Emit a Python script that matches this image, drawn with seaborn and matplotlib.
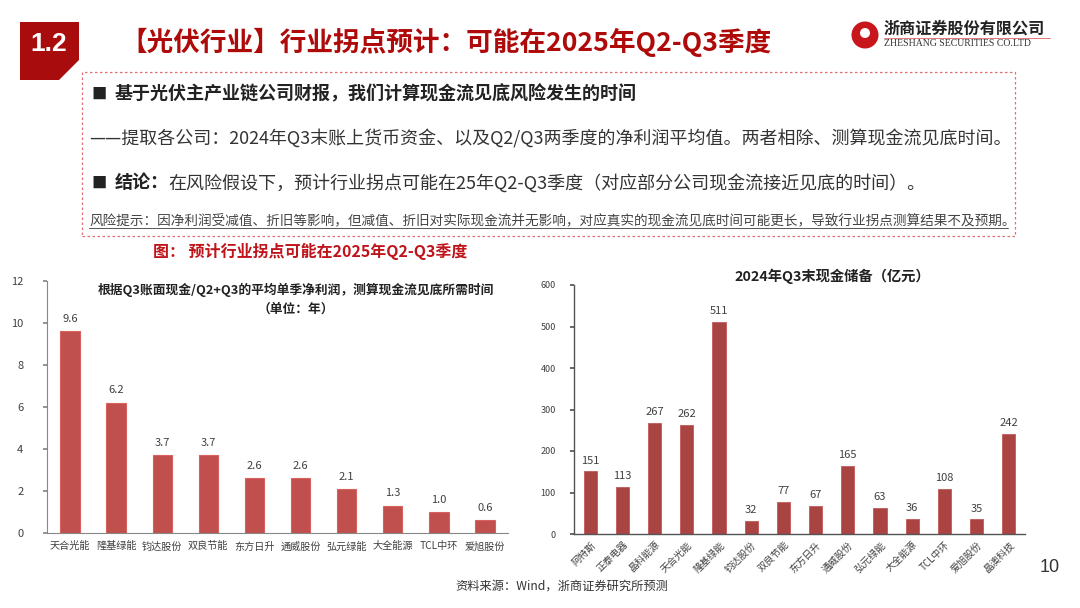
import matplotlib
matplotlib.use("Agg")
import matplotlib.pyplot as plt
import matplotlib.patches as mpatches
import seaborn as sns
import pandas as pd

sns.set_theme(style="white")
plt.rcParams['font.family'] = ['Noto Sans CJK SC', 'DejaVu Sans']

# ---------------- data ----------------
left_companies = ["天合光能", "隆基绿能", "钧达股份", "双良节能", "东方日升",
                  "通威股份", "弘元绿能", "大全能源", "TCL中环", "爱旭股份"]
left_years = [9.6, 6.2, 3.7, 3.7, 2.6, 2.6, 2.1, 1.3, 1.0, 0.6]
left_yticks = [0, 2, 4, 6, 8, 10, 12]

right_companies = ["阿特斯", "正泰电器", "晶科能源", "天合光能", "隆基绿能", "钧达股份",
                   "双良节能", "东方日升", "通威股份", "弘元绿能", "大全能源", "TCL中环",
                   "爱旭股份", "晶澳科技"]
right_cash = [151, 113, 267, 262, 511, 32, 77, 67, 165, 63, 36, 108, 35, 242]
right_yticks = [0, 100, 200, 300, 400, 500, 600]

W, H = 1080, 608
fig = plt.figure(figsize=(W / 100, H / 100), dpi=100)
fig.patch.set_facecolor("white")


def P(x, y):
    return (x / W, 1 - y / H)


RED = "#AE0A0A"
GRAY = "#404040"

# ---------------- header ----------------
poly = [P(20, 22), P(79, 22), P(79, 60), P(59, 80), P(20, 80)]
fig.patches.append(mpatches.Polygon(poly, closed=True, transform=fig.transFigure,
                                    facecolor="#A80C0C", edgecolor="none"))
fig.text(*P(49, 44), "1.2", color="white", fontsize=19, fontweight="bold",
         family=["Liberation Sans", "DejaVu Sans"], ha="center", va="center")
fig.text(*P(120, 42), "【光伏行业】行业拐点预计：可能在2025年Q2-Q3季度", color=RED,
         fontsize=19.2, fontweight="bold", ha="left", va="center")

# logo
fig.patches.append(mpatches.Ellipse(P(865, 35), 27 / W, 27 / H, transform=fig.transFigure,
                                    facecolor="#C8161D", edgecolor="none"))
fig.patches.append(mpatches.Ellipse(P(865, 33), 10 / W, 10 / H, transform=fig.transFigure,
                                    facecolor="white", edgecolor="none"))
fig.text(*P(884, 29), "浙商证券股份有限公司", color="#222222", fontsize=11.6,
         fontweight="bold", ha="left", va="center")
fig.lines.append(plt.Line2D([P(884, 38)[0], P(1050, 38)[0]], [P(884, 38)[1], P(1050, 38)[1]],
                            transform=fig.transFigure, color="#E06060", lw=0.6))
fig.text(*P(884, 44), "ZHESHANG SECURITIES CO.LTD", color="#333333", fontsize=7,
         family=["Liberation Serif", "DejaVu Serif"], ha="left", va="center")

# dashed text box
box = mpatches.Rectangle(P(82, 236), (1015 - 82) / W, (236 - 72) / H, transform=fig.transFigure,
                         facecolor="none", edgecolor="#E07070", lw=0.9, ls=(0, (2, 2)))
fig.patches.append(box)

fig.text(*P(91, 94), "■", color="#222222", fontsize=11, ha="left", va="center")
fig.text(*P(115, 94), "基于光伏主产业链公司财报，我们计算现金流见底风险发生的时间",
         color="#222222", fontsize=13, fontweight="bold", ha="left", va="center")
fig.text(*P(89, 139), "——提取各公司：2024年Q3末账上货币资金、以及Q2/Q3两季度的净利润平均值。两者相除、测算现金流见底时间。",
         color="#333333", fontsize=12.95, ha="left", va="center")
fig.text(*P(91, 183), "■", color="#222222", fontsize=11, ha="left", va="center")
fig.text(*P(115, 183), "结论：", color="#222222", fontsize=13, fontweight="bold",
         ha="left", va="center")
fig.text(*P(168, 183), "在风险假设下，预计行业拐点可能在25年Q2-Q3季度（对应部分公司现金流接近见底的时间）。",
         color="#333333", fontsize=13, ha="left", va="center")
fig.text(*P(89, 221), "风险提示：因净利润受减值、折旧等影响，但减值、折旧对实际现金流并无影响，对应真实的现金流见底时间可能更长，导致行业拐点测算结果不及预期。",
         color="#444444", fontsize=9.8, ha="left", va="center")
fig.lines.append(plt.Line2D([P(89, 228)[0], P(1008, 228)[0]], [P(89, 228)[1], P(1008, 228)[1]],
                            transform=fig.transFigure, color="#555555", lw=0.7))

fig.text(*P(153, 251), "图： 预计行业拐点可能在2025年Q2-Q3季度", color="#C0141B",
         fontsize=11.5, fontweight="bold", ha="left", va="center")

# ---------------- left chart ----------------
axL = fig.add_axes([47 / W, 1 - 533 / H, (508 - 47) / W, (533 - 281) / H])
dfL = pd.DataFrame({"company": left_companies, "years": left_years})
sns.barplot(data=dfL, x="company", y="years", ax=axL, color="#C0504D",
            width=0.42, edgecolor="#D9625F", linewidth=0.8, saturation=1)
axL.set_ylim(0, 12)
axL.set_xlim(-0.5, len(left_companies) - 0.5)
axL.set_yticks(left_yticks)
axL.set_yticklabels([str(v) for v in left_yticks], fontsize=8, color=GRAY)
axL.set_xticks(range(len(left_companies)))
axL.set_xticklabels(left_companies, fontsize=7.3, color=GRAY)
axL.set_xticks([i + 0.5 for i in range(-1, len(left_companies))], minor=True)
axL.tick_params(axis="x", which="major", length=0, pad=6)
axL.tick_params(axis="x", which="minor", length=3, color="#888888", direction="out")
axL.tick_params(axis="y", length=3, color="#888888", direction="out", pad=14, left=True)
axL.set_xlabel("")
axL.set_ylabel("")
for s in ["top", "right"]:
    axL.spines[s].set_visible(False)
for s in ["left", "bottom"]:
    axL.spines[s].set_color("#888888")
    axL.spines[s].set_linewidth(0.8)
for i, v in enumerate(left_years):
    axL.text(i, v + 0.35, f"{v:.1f}", ha="center", va="bottom", fontsize=8, color=GRAY)
fig.text(*P(296, 290), "根据Q3账面现金/Q2+Q3的平均单季净利润，测算现金流见底所需时间",
         fontsize=9.2, fontweight="bold", color="#222222", ha="center", va="center")
fig.text(*P(296, 309), "（单位：年）", fontsize=9.2, fontweight="bold", color="#222222",
         ha="center", va="center")

# ---------------- right chart ----------------
axR = fig.add_axes([574 / W, 1 - 534 / H, (1025 - 574) / W, (534 - 285) / H])
dfR = pd.DataFrame({"company": right_companies, "cash": right_cash})
sns.barplot(data=dfR, x="company", y="cash", ax=axR, color="#A94442",
            width=0.41, edgecolor="#C05A57", linewidth=0.6, saturation=1)
axR.set_ylim(0, 600)
axR.set_xlim(-0.5, len(right_companies) - 0.5)
axR.set_yticks(right_yticks)
axR.set_yticklabels([str(v) for v in right_yticks], fontsize=6.5, color=GRAY)
axR.set_xticks(range(len(right_companies)))
axR.set_xticklabels(right_companies, fontsize=7, color=GRAY, rotation=45,
                    ha="right", rotation_mode="anchor")
axR.set_xticks([i + 0.5 for i in range(-1, len(right_companies))], minor=True)
axR.tick_params(axis="x", which="major", length=0, pad=4)
axR.tick_params(axis="x", which="minor", length=3, color="#555555", direction="out")
axR.tick_params(axis="y", length=3, color="#555555", direction="out", pad=10, left=True)
axR.set_xlabel("")
axR.set_ylabel("")
for s in ["top", "right"]:
    axR.spines[s].set_visible(False)
for s in ["left", "bottom"]:
    axR.spines[s].set_color("#555555")
    axR.spines[s].set_linewidth(1.0)
for i, v in enumerate(right_cash):
    axR.text(i, v + 14, f"{v}", ha="center", va="bottom", fontsize=8, color=GRAY)
fig.text(*P(832, 276), "2024年Q3末现金储备（亿元）", fontsize=10.3, fontweight="bold",
         color="#222222", ha="center", va="center")

# ---------------- footer ----------------
fig.text(*P(455, 586), "资料来源：Wind，浙商证券研究所预测", fontsize=8.8, color="#333333",
         ha="left", va="center")
fig.text(*P(1050, 568), "10", fontsize=13, color="#333333",
         family=["Liberation Sans", "DejaVu Sans"], ha="center", va="center")

fig.savefig("out.png", dpi=100)
